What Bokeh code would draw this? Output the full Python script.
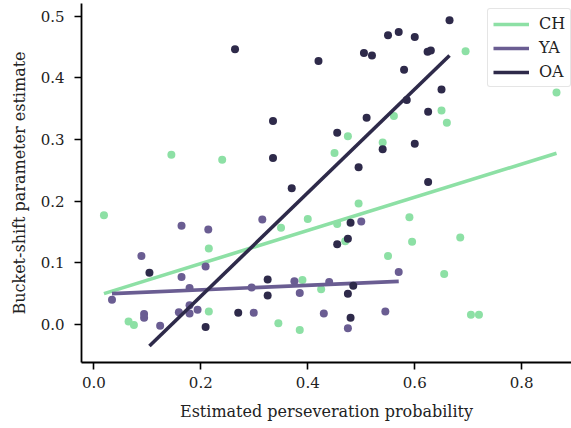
import numpy as np
from bokeh.plotting import figure
from bokeh.models import (Range1d, FixedTicker, PrintfTickFormatter, Legend,
                          LegendItem)
from bokeh.embed import file_html
from bokeh.resources import INLINE

# Per-participant estimates for each age group
ch_persev = [0.019, 0.145, 0.240, 0.065, 0.075, 0.215, 0.215, 0.345, 0.350, 0.385,
             0.390, 0.400, 0.425, 0.450, 0.455, 0.470, 0.475, 0.495, 0.540, 0.550,
             0.561, 0.590, 0.595, 0.650, 0.655, 0.660, 0.685, 0.695, 0.705, 0.720,
             0.865]
ch_shift = [0.177, 0.275, 0.267, 0.005, -0.001, 0.123, 0.021, 0.002, 0.157, -0.009,
            0.072, 0.171, 0.057, 0.278, 0.163, 0.135, 0.305, 0.196, 0.295, 0.111,
            0.338, 0.174, 0.134, 0.347, 0.082, 0.327, 0.141, 0.443, 0.016, 0.016,
            0.376]

ya_persev = [0.034, 0.089, 0.094, 0.094, 0.124, 0.159, 0.164, 0.164, 0.179, 0.179,
             0.179, 0.194, 0.209, 0.214, 0.295, 0.299, 0.315, 0.375, 0.385, 0.430,
             0.440, 0.475, 0.500, 0.545, 0.570]
ya_shift = [0.040, 0.111, 0.017, 0.011, -0.002, 0.020, 0.160, 0.077, 0.059, 0.031,
            0.018, 0.024, 0.094, 0.154, 0.060, 0.019, 0.170, 0.070, 0.051, 0.018,
            0.069, -0.006, 0.167, 0.021, 0.085]

oa_persev = [0.104, 0.209, 0.264, 0.270, 0.325, 0.325, 0.335, 0.335, 0.370, 0.420,
             0.455, 0.455, 0.475, 0.475, 0.480, 0.480, 0.485, 0.495, 0.505, 0.510,
             0.520, 0.540, 0.550, 0.570, 0.580, 0.585, 0.600, 0.600, 0.624, 0.630,
             0.625, 0.625, 0.650, 0.665]
oa_shift = [0.084, -0.004, 0.446, 0.019, 0.073, 0.047, 0.330, 0.270, 0.221, 0.427,
            0.311, 0.130, 0.139, 0.050, 0.165, 0.011, 0.063, 0.255, 0.440, 0.335,
            0.436, 0.284, 0.469, 0.474, 0.413, 0.364, 0.466, 0.293, 0.442, 0.444,
            0.345, 0.231, 0.381, 0.493]

# Fitted trend per group (intercept, slope)
fit_intercept = [0.0449, 0.0487, -0.1223]
fit_slope = [0.269, 0.0371, 0.8396]

groups = ["CH", "YA", "OA"]
colors = ["#8de0a5", "#6a5d92", "#2e2a4a"]
x_ticks = [0.0, 0.2, 0.4, 0.6, 0.8]
y_ticks = [0.0, 0.1, 0.2, 0.3, 0.4, 0.5]

FONT = "DejaVu Serif"
TEXT = "#222222"

p = figure(width=571, height=428, output_backend="svg", toolbar_location=None,
           x_range=Range1d(-0.023, 0.893), y_range=Range1d(-0.0616, 0.5203),
           min_border_left=81, min_border_right=0, min_border_top=3,
           min_border_bottom=66, background_fill_color="white",
           border_fill_color="white")
p.outline_line_color = None
p.grid.visible = False

for ax in (p.xaxis[0], p.yaxis[0]):
    ax.axis_line_width = 1.8
    ax.axis_line_color = "#000000"
    ax.major_tick_line_width = 1.6
    ax.major_tick_line_color = "#000000"
    ax.major_tick_out = 7
    ax.major_tick_in = 0
    ax.minor_tick_line_color = None
    ax.major_label_text_font = FONT
    ax.major_label_text_font_size = "15px"
    ax.major_label_text_color = TEXT
    ax.axis_label_text_font = FONT
    ax.axis_label_text_font_size = "16px"
    ax.axis_label_text_font_style = "normal"
    ax.axis_label_text_color = TEXT
    ax.formatter = PrintfTickFormatter(format="%.1f")

p.xaxis[0].ticker = FixedTicker(ticks=x_ticks)
p.yaxis[0].ticker = FixedTicker(ticks=y_ticks)
p.xaxis[0].axis_label = "Estimated perseveration probability"
p.yaxis[0].axis_label = "Bucket-shift parameter estimate"
p.xaxis[0].major_label_standoff = 7
p.yaxis[0].major_label_standoff = 10
p.xaxis[0].axis_label_standoff = 11
p.yaxis[0].axis_label_standoff = 9

data = [(ch_persev, ch_shift), (ya_persev, ya_shift), (oa_persev, oa_shift)]
items = []
for name, color, (xs, ys), b0, b1 in zip(groups, colors, data,
                                          fit_intercept, fit_slope):
    xs = np.asarray(xs)
    ys = np.asarray(ys)
    p.scatter(xs, ys, size=8, fill_color=color, line_color=None)
    # trend line spanning the group's observed range
    fx = np.array([xs.min(), xs.max()])
    fit = p.line(fx, b0 + b1 * fx, line_color=color, line_width=3.6)
    items.append(LegendItem(label=name, renderers=[fit]))

legend = Legend(items=items, location=(406, 275), orientation="vertical",
                label_text_font=FONT, label_text_font_size="16px",
                label_text_color=TEXT, glyph_width=36, glyph_height=18,
                label_height=18, spacing=5, padding=5, label_standoff=10,
                border_line_color="#cccccc", border_line_width=1.5,
                border_radius=3, background_fill_alpha=0.85, margin=0)
p.add_layout(legend)

open("out.html", "w").write(file_html(p, INLINE))
